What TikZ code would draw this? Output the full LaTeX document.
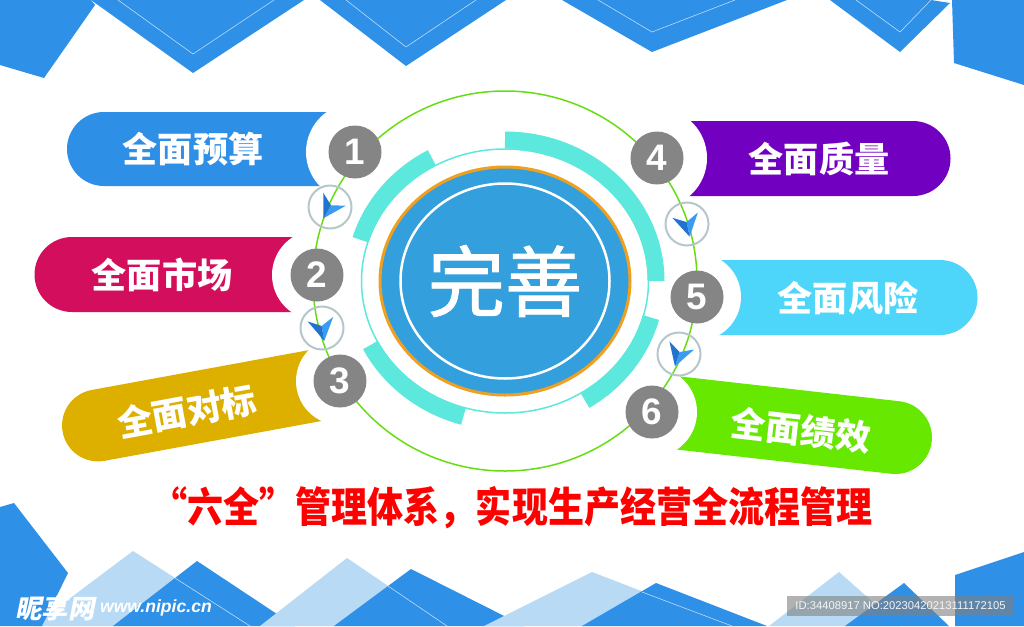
\documentclass[tikz,border=0pt]{standalone}
\usepackage{fontspec}
\setmainfont{Liberation Sans}
\newfontfamily\cjk{Noto Sans CJK SC}
\newfontfamily\cjkcore[FakeBold=1.2]{Noto Sans CJK SC}
\newfontfamily\cjkslant[FakeSlant=0.2]{Noto Sans CJK SC}
\usetikzlibrary{calc, positioning}

\definecolor{bgblue}{HTML}{2F90E8}
\definecolor{bglight}{HTML}{B8DAF5}
\definecolor{budgetblue}{HTML}{2E8FE6}
\definecolor{marketred}{HTML}{D30E5C}
\definecolor{benchgold}{HTML}{DDB000}
\definecolor{qualpurple}{HTML}{7200C0}
\definecolor{riskcyan}{HTML}{4DD5FA}
\definecolor{perfgreen}{HTML}{66E800}
\definecolor{numgray}{HTML}{858585}
\definecolor{ringgray}{HTML}{B5C7CB}
\definecolor{ringgreen}{HTML}{66DD11}
\definecolor{bandcyan}{HTML}{5CE8DC}
\definecolor{coreblue}{HTML}{339FDD}
\definecolor{coreorange}{HTML}{F0A020}
\definecolor{chevlight}{HTML}{3A9BF0}
\definecolor{chevdark}{HTML}{2272D0}

\tikzstyle{darkTri} = [fill=bgblue]
\tikzstyle{lightTri} = [fill=bglight]
\tikzstyle{edgeLine} = [draw=white!75!bgblue, line width=0.3pt]
\tikzstyle{scoop} = [fill=white]
\tikzstyle{pillText} = [text=white, inner sep=0pt,
	font=\cjk\bfseries\fontsize{20}{24}\selectfont]
\tikzstyle{numCircle} = [circle, fill=numgray, text=white, inner sep=0pt,
	minimum size=1.06cm, font=\bfseries\fontsize{21}{24}\selectfont]
\tikzstyle{marker} = [circle, draw=ringgray, line width=0.04cm,
	minimum size=0.86cm, inner sep=0pt]
\tikzstyle{band} = [draw=bandcyan, line width=0.34cm]

\begin{document}
\begin{tikzpicture}[x=0.02cm, y=-0.02cm]
  \useasboundingbox (0,0) rectangle (1024,626);
  \fill[white] (0,0) rectangle (1024,626);
  \clip (0,0) rectangle (1024,626);

  % top border
  \fill[darkTri] (0,0) -- (91,0) -- (95,5) -- (44,78) -- (0,65) -- cycle;
  \fill[darkTri] (91,0) -- (304,0) -- (193,73) -- cycle;
  \fill[darkTri] (320,0) -- (506,0) -- (406,66) -- cycle;
  \fill[darkTri] (562,0) -- (787,0) -- (652,52) -- cycle;
  \fill[darkTri] (830,0) -- (931,0) -- (950,3) -- (900,52) -- cycle;
  \fill[darkTri] (952,0) -- (1024,0) -- (1024,85) -- (954,63) -- cycle;
  \draw[edgeLine] (118,0) -- (193,54) -- (274,0);
  \draw[edgeLine] (346,0) -- (406,47) -- (476,0);
  \draw[edgeLine] (598,0) -- (652,32) -- (735,0);
  \draw[edgeLine] (856,0) -- (900,32) -- (931,0);

  % bottom border
  \fill[lightTri] (133,551) -- (33,626) -- (250,626) -- cycle;
  \fill[darkTri] (0,507) -- (14,503) -- (68,573) -- (42,626) -- (0,626) -- cycle;
  \fill[darkTri] (197,561) -- (113,626) -- (295,626) -- cycle;
  \fill[lightTri] (347,558) -- (260,626) -- (447,626) -- cycle;
  \fill[darkTri] (411,569) -- (334,626) -- (524,626) -- cycle;
  \fill[lightTri] (592,572) -- (484,626) -- (732,626) -- cycle;
  \fill[darkTri] (656,583) -- (582,626) -- (767,626) -- cycle;
  \fill[lightTri] (839,572) -- (769,626) -- (900,626) -- cycle;
  \fill[darkTri] (904,583) -- (845,626) -- (949,626) -- cycle;
  \fill[darkTri] (955,575) -- (1024,552) -- (1024,626) -- (955,626) -- cycle;
  \draw[edgeLine] (175,578) -- (250,626);
  \draw[edgeLine] (388,586) -- (447,626);
  \draw[edgeLine] (642,592) -- (732,626);

  \coordinate (cen) at (505,281);
  \coordinate (c1) at (355,152);
  \coordinate (c2) at (317,275);
  \coordinate (c3) at (340,381);
  \coordinate (c4) at (657,158);
  \coordinate (c5) at (697,297);
  \coordinate (c6) at (652,412);

  % pills
  \begin{scope}[shift={(355,149)}]
    \fill[budgetblue] (0,-37) -- (-251,-37) arc[start angle=-90, end angle=-270, radius=37] -- (0,37) -- cycle;
  \end{scope}
  \begin{scope}[shift={(317,274.5)}]
    \fill[marketred] (0,-37.5) -- (-245,-37.5) arc[start angle=-90, end angle=-270, radius=37.5] -- (0,37.5) -- cycle;
  \end{scope}
  \begin{scope}[shift={(340,381)}, rotate=10.4]
    \fill[benchgold] (0,-36) -- (-246,-36) arc[start angle=-90, end angle=-270, radius=36] -- (0,36) -- cycle;
  \end{scope}
  \begin{scope}[shift={(657,158.5)}]
    \fill[qualpurple] (0,-37.5) -- (256,-37.5) arc[start angle=-90, end angle=90, radius=37.5] -- (0,37.5) -- cycle;
  \end{scope}
  \begin{scope}[shift={(697,297.5)}]
    \fill[riskcyan] (0,-37.5) -- (243,-37.5) arc[start angle=-90, end angle=90, radius=37.5] -- (0,37.5) -- cycle;
  \end{scope}
  \begin{scope}[shift={(652,410)}, rotate=-6.45]
    \fill[perfgreen] (0,-36.5) -- (245,-36.5) arc[start angle=-90, end angle=90, radius=36.5] -- (0,36.5) -- cycle;
  \end{scope}

  \fill[scoop] (c1) circle (49);
  \fill[scoop] (c2) circle (45);
  \fill[scoop] (c3) circle (44);
  \fill[scoop] (c4) circle (50);
  \fill[scoop] (c5) circle (44);
  \fill[scoop] (c6) circle (45);

  % centre rings
  \draw[band] ([shift={(197:151 and 141)}]cen) arc[start angle=197, end angle=241, x radius=151, y radius=141];
  \draw[band] ([shift={(270:151 and 141)}]cen) arc[start angle=270, end angle=360, x radius=151, y radius=141];
  \draw[band] ([shift={(15:151 and 141)}]cen) arc[start angle=15, end angle=58, x radius=151, y radius=141];
  \draw[band] ([shift={(106:151 and 141)}]cen) arc[start angle=106, end angle=153, x radius=151, y radius=141];
  \draw[bandcyan, line width=0.03cm] (cen) ellipse[x radius=143.5, y radius=132];
  \draw[fill=coreblue, draw=coreorange, line width=0.06cm] (cen) ellipse[x radius=125, y radius=114];
  \draw[white, line width=0.05cm] (cen) ellipse[x radius=104.5, y radius=97.5];
  \node (core) at (cen) [text=white, font=\cjkcore\fontsize{44}{50}\selectfont] {完善};

  \draw[ringgreen, line width=0.03cm] (cen) ellipse[x radius=192, y radius=190];

  % flow markers
  \node (m12) [marker] at (330,207) {};
  \node (m23) [marker] at (322,328) {};
  \node (m45) [marker] at (687,224) {};
  \node (m56) [marker] at (679,354) {};
  \begin{scope}[shift={(m12)}, rotate=-120]
    \fill[chevlight] (13,0) -- (-9,-13) -- (-2,0) -- cycle;
    \fill[chevdark] (13,0) -- (-2,0) -- (-9,13) -- cycle;
  \end{scope}
  \begin{scope}[shift={(m23)}, rotate=-80]
    \fill[chevlight] (13,0) -- (-9,-13) -- (-2,0) -- cycle;
    \fill[chevdark] (13,0) -- (-2,0) -- (-9,13) -- cycle;
  \end{scope}
  \begin{scope}[shift={(m45)}, rotate=-78]
    \fill[chevlight] (13,0) -- (-9,-13) -- (-2,0) -- cycle;
    \fill[chevdark] (13,0) -- (-2,0) -- (-9,13) -- cycle;
  \end{scope}
  \begin{scope}[shift={(m56)}, rotate=-108]
    \fill[chevlight] (13,0) -- (-9,-13) -- (-2,0) -- cycle;
    \fill[chevdark] (13,0) -- (-2,0) -- (-9,13) -- cycle;
  \end{scope}

  % numbers
  \node (n1) [numCircle] at (c1) {1};
  \node (n2) [numCircle] at (c2) {2};
  \node (n3) [numCircle] at (c3) {3};
  \node (n4) [numCircle] at (c4) {4};
  \node (n5) [numCircle] at (c5) {5};
  \node (n6) [numCircle] at (c6) {6};

  % labels
  \node (t1) [pillText] at (193,149) {全面预算};
  \node (t2) [pillText] at (162,274.5) {全面市场};
  \begin{scope}[shift={(340,381)}, rotate=10.4]
    \node (t3) [pillText, transform shape] at (-156,2) {全面对标};
  \end{scope}
  \node (t4) [pillText] at (819,158.5) {全面质量};
  \node (t5) [pillText] at (848,297.5) {全面风险};
  \begin{scope}[shift={(652,410)}, rotate=-6.45]
    \node (t6) [pillText, transform shape] at (150,3) {全面绩效};
  \end{scope}

  \node (motto) at (512,508) [text=red, yscale=1.15, transform shape,
    font=\cjk\bfseries\fontsize{20.5}{24}\selectfont] {“六全”管理体系，实现生产经营全流程管理};

  % watermark
  \node (site) at (15,608) [anchor=west, text=white, inner sep=0pt,
    font=\cjkslant\bfseries\fontsize{15}{18}\selectfont] {昵享网};
  \node (url) [right=0.1cm of site, text=white, inner sep=0pt,
    font=\bfseries\itshape\fontsize{10}{12}\selectfont] {www.nipic.cn};
  \fill[gray, opacity=0.6] (787,596) rectangle (1014,616);
  \node (idtag) at (900.5,606) [text=white!92!gray, inner sep=0pt,
    font=\fontsize{6.4}{8}\selectfont] {ID:34408917 NO:20230420213111172105};
\end{tikzpicture}
\end{document}
